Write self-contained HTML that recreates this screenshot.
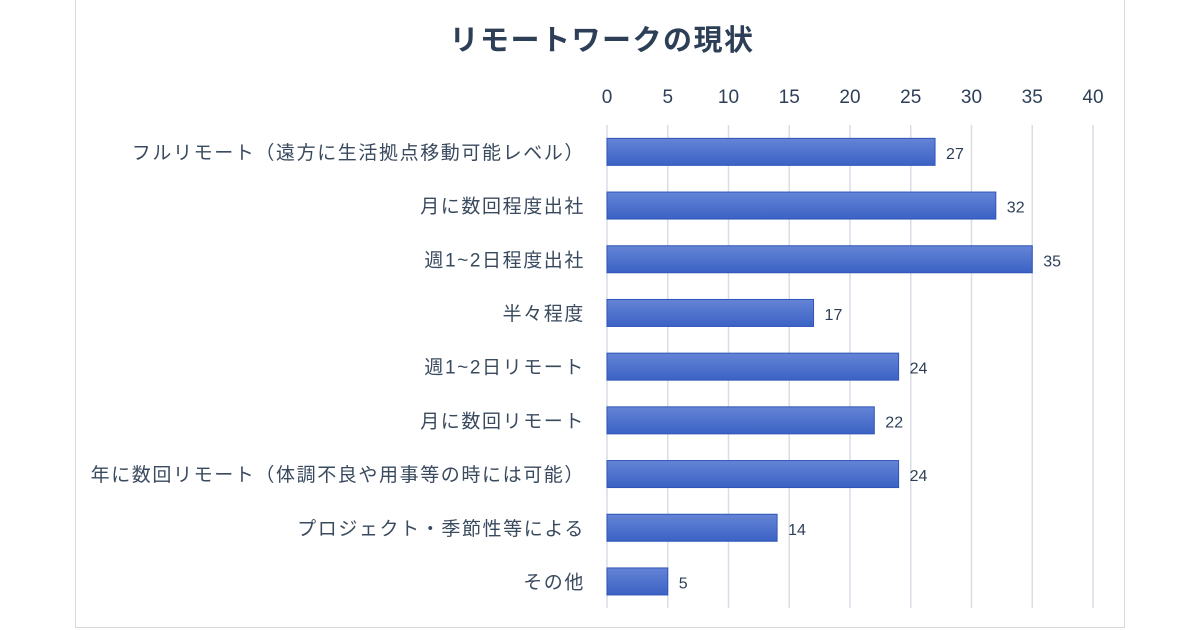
<!DOCTYPE html>
<html><head><meta charset="utf-8">
<style>
body{margin:0;width:1200px;height:630px;background:#fff;overflow:hidden;font-family:"Liberation Sans","Noto Sans CJK JP",sans-serif;}
#frame{position:absolute;left:75px;top:-1px;width:1050px;height:629px;border:1px solid #d9d9d9;box-sizing:border-box;}
</style></head><body>
<div id="frame"></div>
<svg id="chart" width="1200" height="630" style="position:absolute;left:0;top:0">
<defs><linearGradient id="g" x1="0" y1="0" x2="0" y2="1"><stop offset="0" stop-color="#6484d6"/><stop offset="1" stop-color="#3b62c4"/></linearGradient></defs>
<text x="602" y="50" text-anchor="middle" font-size="29" font-weight="bold" letter-spacing="1.5" fill="#2d3f57">リモートワークの現状</text>
</svg>
<script>
const categories=["フルリモート（遠方に生活拠点移動可能レベル）","月に数回程度出社","週1~2日程度出社","半々程度","週1~2日リモート","月に数回リモート","年に数回リモート（体調不良や用事等の時には可能）","プロジェクト・季節性等による","その他"];
const values=[27,32,35,17,24,22,24,14,5];
const ticks=[0,5,10,15,20,25,30,35,40];
const svg=document.getElementById('chart');
const NS='http://www.w3.org/2000/svg';
const x=v=>607+v*(1093-607)/40;
const rowH=53.7, y0=125;
const y=i=>y0+rowH*i+rowH/2;
function mk(t,a){const e=document.createElementNS(NS,t);for(const k in a)e.setAttribute(k,a[k]);svg.appendChild(e);return e;}
ticks.forEach(t=>{
  const l=mk('line',{x1:x(t),x2:x(t),y1:125,y2:608,stroke:'#d9dde6','stroke-width':1.5});
  
  
  const tx=mk('text',{x:x(t),y:103,'text-anchor':'middle','font-size':19,fill:'#2d3f57'});
  tx.textContent=t;
  
  
});
categories.forEach((c,i)=>{
  const cy=y(i);
  const r=mk('rect',{x:x(0),y:cy-13.5,width:x(values[i])-x(0),height:27,fill:'url(#g)',stroke:'#2f55b8','stroke-width':1});
  
  
  const lb=mk('text',{x:585,y:cy+7,'text-anchor':'end','font-size':19,'letter-spacing':1.6,fill:'#3a4a5e'});
  lb.textContent=c;
  
  
  const v=mk('text',{x:x(values[i])+11,y:cy+7,'font-size':16,fill:'#2d3f57'});
  v.textContent=values[i];
  
  
});
</script>
</body></html>
